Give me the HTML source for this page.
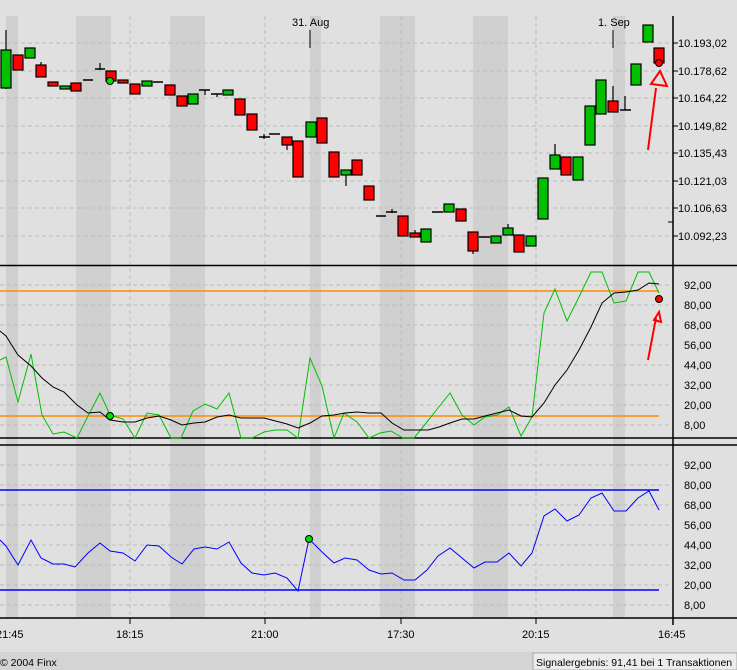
<!DOCTYPE html>
<html><head><meta charset="utf-8"><style>
html,body{margin:0;padding:0;background:#e0e0e0;}
svg{display:block;font-family:"Liberation Sans",sans-serif;}
</style></head><body>
<svg width="737" height="670" xmlns="http://www.w3.org/2000/svg">
<rect width="737" height="670" fill="#e0e0e0"/>
<!-- bands -->
<g fill="#d0d0d0">
<rect x="6" y="16" width="12" height="249"/><rect x="76" y="16" width="35" height="249"/><rect x="170" y="16" width="35" height="249"/><rect x="310" y="16" width="11" height="249"/><rect x="380" y="16" width="35" height="249"/><rect x="473" y="16" width="35" height="249"/><rect x="613" y="16" width="12" height="249"/>
<rect x="6" y="265" width="12" height="353"/><rect x="76" y="265" width="35" height="353"/><rect x="170" y="265" width="35" height="353"/><rect x="310" y="265" width="11" height="353"/><rect x="380" y="265" width="35" height="353"/><rect x="473" y="265" width="35" height="353"/><rect x="613" y="265" width="12" height="353"/>
</g>
<!-- grid -->
<g stroke="#bdbdbd" stroke-dasharray="4,3" stroke-width="1">
<path d="M0 43H673M0 71H673M0 98H673M0 126H673M0 153H673M0 181H673M0 208H673M0 236H673"/>
<path d="M0 285H673M0 305H673M0 325H673M0 345H673M0 365H673M0 385H673M0 405H673M0 425H673"/>
<path d="M0 465H673M0 485H673M0 505H673M0 525H673M0 545H673M0 565H673M0 585H673M0 605H673"/>
<path d="M130 16V618M265 16V618M401 16V618M536 16V618"/>
</g>
<!-- panel borders -->
<g stroke="#000" stroke-width="1.5">
<path d="M0 265.5H737M0 438H737M0 445H737M0 618H737"/>
<path d="M673 16V625"/>
</g>
<g stroke="#000" stroke-width="1">
<path d="M673 43h5M673 71h5M673 98h5M673 126h5M673 153h5M673 181h5M673 208h5M673 236h5M673 222h-5"/>
<path d="M130 618v6M265 618v6M401 618v6M536 618v6"/>
<path d="M310 30v18M613 30v18"/>
</g>
<g font-size="11" fill="#000">
<text x="292" y="26">31. Aug</text><text x="598" y="26">1. Sep</text>
<text x="678" y="47">10.193,02</text><text x="678" y="75">10.178,62</text><text x="678" y="102">10.164,22</text><text x="678" y="130">10.149,82</text><text x="678" y="157">10.135,43</text><text x="678" y="185">10.121,03</text><text x="678" y="212">10.106,63</text><text x="678" y="240">10.092,23</text>
<text x="684" y="289">92,00</text><text x="684" y="309">80,00</text><text x="684" y="329">68,00</text><text x="684" y="349">56,00</text><text x="684" y="369">44,00</text><text x="684" y="389">32,00</text><text x="684" y="409">20,00</text><text x="684" y="429">8,00</text>
<text x="684" y="469">92,00</text><text x="684" y="489">80,00</text><text x="684" y="509">68,00</text><text x="684" y="529">56,00</text><text x="684" y="549">44,00</text><text x="684" y="569">32,00</text><text x="684" y="589">20,00</text><text x="684" y="609">8,00</text>
<text x="-4" y="638">21:45</text><text x="116" y="638">18:15</text><text x="251" y="638">21:00</text><text x="387" y="638">17:30</text><text x="522" y="638">20:15</text><text x="658" y="638">16:45</text>
</g>
<!-- footer -->
<rect x="0" y="652" width="737" height="18" fill="#d4d4d4"/>
<rect x="533" y="653" width="204" height="17" fill="#ececec" stroke="#aaa"/>
<text x="0" y="666" font-size="10.5">© 2004 Finx</text>
<text x="536" y="666" font-size="10.5">Signalergebnis: 91,41 bei 1 Transaktionen</text>
<!-- candles -->
<g stroke="#000" stroke-width="1.2">
<path d="M6 30V89M41 62V66M100 63V70M205 90V95M217 94V97M264 134V139M287 145V150M346 175V186M392 209V213M415 230V233M473 251V254M508 224V228M555 144V155M613 86V101M625 96V110"/>
<path d="M83 80h10M95 69h10M153 82h10M199 90h11M211 94h11M259 137h11M269 134h11M376 216h10M386 212h11M432 212h11M479 237h11M620 110h11" stroke-width="1.6"/>
</g>
<g stroke="#000" stroke-width="1.2">
<g fill="#00c000">
<rect x="1" y="50" width="10" height="38"/><rect x="25" y="48" width="10" height="10"/><rect x="60" y="86" width="10" height="3"/><rect x="142" y="81" width="10" height="5"/><rect x="188" y="94" width="10" height="10"/><rect x="223" y="90" width="10" height="5"/><rect x="306" y="122" width="10" height="15"/><rect x="341" y="170" width="10" height="5"/><rect x="421" y="229" width="10" height="13"/><rect x="444" y="204" width="10" height="8"/><rect x="491" y="236" width="10" height="7"/><rect x="503" y="228" width="10" height="7"/><rect x="526" y="236" width="10" height="10"/><rect x="538" y="178" width="10" height="41"/><rect x="550" y="155" width="10" height="14"/><rect x="573" y="157" width="10" height="23"/><rect x="585" y="106" width="10" height="39"/><rect x="596" y="80" width="10" height="34"/><rect x="631" y="64" width="10" height="21"/><rect x="643" y="25" width="10" height="17"/>
</g>
<g fill="#ff0000">
<rect x="13" y="55" width="10" height="15"/><rect x="36" y="65" width="10" height="12"/><rect x="48" y="82" width="10" height="4"/><rect x="71" y="83" width="10" height="8"/><rect x="106" y="71" width="10" height="10"/><rect x="118" y="80" width="10" height="3"/><rect x="130" y="84" width="10" height="10"/><rect x="165" y="85" width="10" height="10"/><rect x="177" y="96" width="10" height="10"/><rect x="235" y="99" width="10" height="16"/><rect x="247" y="114" width="10" height="16"/><rect x="282" y="137" width="10" height="8"/><rect x="293" y="141" width="10" height="36"/><rect x="317" y="118" width="10" height="25"/><rect x="329" y="152" width="10" height="25"/><rect x="352" y="160" width="10" height="15"/><rect x="364" y="186" width="10" height="14"/><rect x="398" y="216" width="10" height="20"/><rect x="410" y="233" width="10" height="4"/><rect x="456" y="209" width="10" height="12"/><rect x="468" y="232" width="10" height="19"/><rect x="514" y="235" width="10" height="17"/><rect x="561" y="157" width="10" height="18"/><rect x="608" y="101" width="10" height="11"/><rect x="654" y="48" width="10" height="15"/>
</g>
</g>
<circle cx="110" cy="81" r="3.5" fill="#00e000" stroke="#000"/>
<circle cx="659" cy="63" r="3.5" fill="#ff0000" stroke="#000"/>
<g stroke="#ff0000" stroke-width="2" fill="none">
<path d="M648 150L656 88"/><path d="M651 84L660 71L667 86Z"/>
<path d="M648 360L656 318"/><path d="M654 320L659 312L661 322Z"/>
</g>
<!-- panel 2 -->
<path d="M0 291H659M0 416H659" stroke="#ff8c00" stroke-width="1.5"/>
<polyline fill="none" stroke="#00c000" stroke-width="1" points="0,360 6,357 18,402 31,354 42,415 53,434 64,432 77,438 88,416 100,393 110,415 123,419 135,438 147,413 159,415 171,438 181,438 193,411 205,404 217,409 229,393 241,438 252,438 264,432 275,430 287,430 298,438 310,358 322,386 334,438 344,413 357,422 369,438 380,433 391,431 403,438 414,438 427,422 438,408 450,393 462,415 474,425 485,417 497,415 509,407 521,436 532,417 544,313 555,289 567,321 579,297 591,272 602,272 614,303 626,301 638,272 649,272 659,293"/>
<polyline fill="none" stroke="#000" stroke-width="1" points="0,331 6,336 18,355 31,366 42,378 53,387 64,392 77,405 88,413 100,412 110,420 123,422 135,422 147,418 159,416 171,420 182,425 194,423 205,422 217,417 229,415 241,418 264,418 287,424 298,428 310,423 322,416 334,415 345,413 357,412 369,413 381,413 392,423 404,430 428,430 439,427 450,423 462,419 474,419 485,416 497,413 509,410 521,416 532,417 544,403 555,385 567,370 579,350 591,327 602,303 614,293 626,292 638,290 649,283 659,284"/>
<circle cx="110" cy="416" r="3.5" fill="#00e000" stroke="#000"/>
<circle cx="659" cy="299" r="3.5" fill="#ff0000" stroke="#000"/>
<!-- panel 3 -->
<path d="M0 490H659M0 590H659" stroke="#0000ff" stroke-width="1.5"/>
<polyline fill="none" stroke="#0000ff" stroke-width="1" points="0,540 6,546 18,565 31,540 41,558 53,564 64,564 75,567 88,553 100,543 110,551 123,553 135,561 147,545 159,546 171,557 182,564 194,549 205,547 217,549 229,542 241,563 252,573 264,575 275,573 287,578 298,591 309,539 322,552 334,563 345,558 357,560 369,570 381,574 392,573 404,580 415,580 427,570 438,556 450,548 462,558 474,568 485,562 497,562 509,553 521,566 532,553 544,516 555,509 567,521 579,515 591,498 602,493 614,511 626,511 638,498 649,491 659,510"/>
<circle cx="309" cy="539" r="3.5" fill="#00e000" stroke="#000"/>
</svg>
</body></html>
